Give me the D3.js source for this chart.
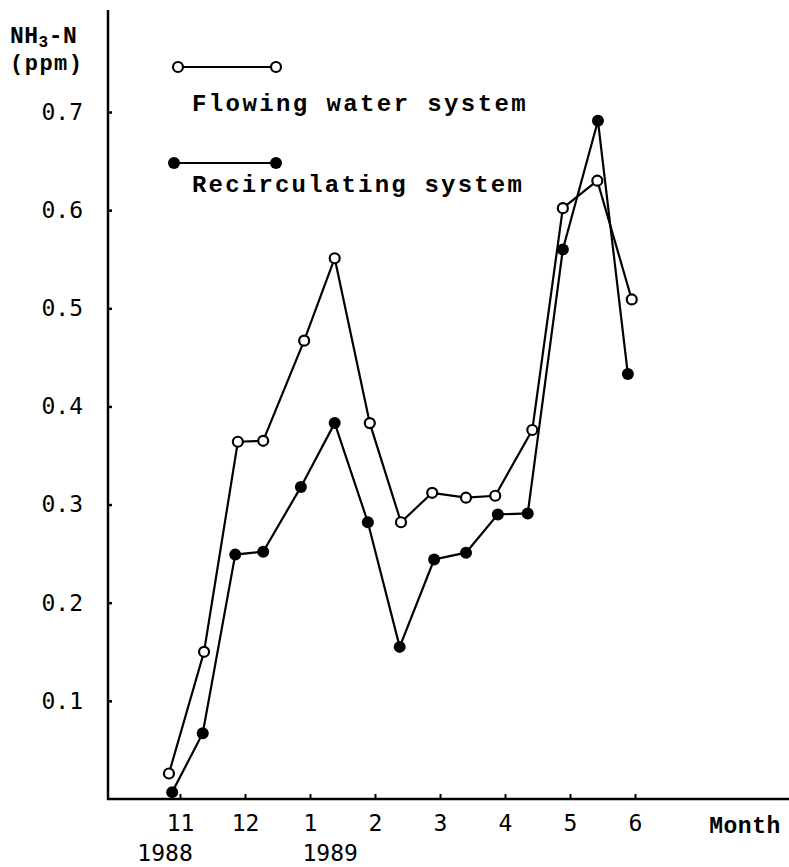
<!DOCTYPE html>
<html>
<head>
<meta charset="utf-8">
<script src="https://cdn.jsdelivr.net/npm/d3@7"></script>
<style>
  html, body { margin: 0; padding: 0; background: #fff; }
  svg { display: block; }
</style>
</head>
<body>
<svg id="chart" width="789" height="867"></svg>
<script>
// Month ticks (index 0 = Nov 1988)
const monthTicks = [0, 1, 2, 3, 4, 5, 6, 7];
const monthLabels = ["11", "12", "1", "2", "3", "4", "5", "6"];
const yearLabels = ["1988", "1989"];
const yearPos = [-0.23, 2.31];
const yTicks = [0.1, 0.2, 0.3, 0.4, 0.5, 0.6, 0.7];

// Flowing water system (open circles)
const flowT = [-0.17, 0.37, 0.89, 1.28, 1.91, 2.38, 2.92, 3.40, 3.88, 4.40, 4.85, 5.42, 5.89, 6.42, 6.95];
const flowV = [0.026, 0.150, 0.364, 0.365, 0.467, 0.551, 0.383, 0.282, 0.312, 0.307, 0.309, 0.376, 0.602, 0.630, 0.509];

// Recirculating system (filled circles)
const recT = [-0.12, 0.35, 0.85, 1.28, 1.86, 2.38, 2.89, 3.38, 3.91, 4.40, 4.89, 5.35, 5.89, 6.43, 6.89];
const recV = [0.007, 0.067, 0.249, 0.252, 0.318, 0.383, 0.282, 0.155, 0.244, 0.251, 0.290, 0.291, 0.560, 0.691, 0.433];

const svg = d3.select("#chart");
const x = d3.scaleLinear().domain([0, 7]).range([180, 635]);
const y = d3.scaleLinear().domain([0, 0.7]).range([799, 112]);

const axisX0 = 108, axisY0 = 799;
const tickFont = "'DejaVu Sans Mono', monospace";
const boldFont = "'Liberation Mono', 'Courier New', monospace";

// Axis lines
svg.append("line").attr("x1", axisX0).attr("x2", axisX0).attr("y1", 10).attr("y2", axisY0 + 1)
  .attr("stroke", "#000").attr("stroke-width", 2.5);
svg.append("line").attr("x1", axisX0 - 1).attr("x2", 789).attr("y1", axisY0).attr("y2", axisY0)
  .attr("stroke", "#000").attr("stroke-width", 2.5);

// Y axis
const yAxis = svg.append("g").attr("transform", `translate(${axisX0},0)`)
  .call(d3.axisLeft(y).tickValues(yTicks).tickSize(-4).tickPadding(25).tickFormat(d3.format(".1f")));
yAxis.select(".domain").remove();
yAxis.selectAll(".tick line").attr("stroke", "#000").attr("stroke-width", 2.5);
yAxis.selectAll(".tick text").attr("font-family", tickFont).attr("font-size", 23).attr("fill", "#000");

// X axis
const xAxis = svg.append("g").attr("transform", `translate(0,${axisY0})`)
  .call(d3.axisBottom(x).tickValues(monthTicks).tickSize(-5).tickPadding(16)
    .tickFormat((d, i) => monthLabels[i]));
xAxis.select(".domain").remove();
xAxis.selectAll(".tick line").attr("stroke", "#000").attr("stroke-width", 2);
xAxis.selectAll(".tick text").attr("font-family", tickFont).attr("font-size", 23).attr("fill", "#000");

// Year labels
svg.selectAll(".year").data(yearLabels).enter().append("text")
  .attr("x", (d, i) => x(yearPos[i])).attr("y", 861)
  .attr("text-anchor", "middle").attr("font-family", tickFont).attr("font-size", 23)
  .text(d => d);

// Month label
svg.append("text").attr("x", 745).attr("y", 833).attr("text-anchor", "middle")
  .attr("font-family", boldFont).attr("font-weight", "bold").attr("font-size", 23)
  .attr("letter-spacing", 0.5).text("Month");

// Y axis title
const t1 = svg.append("text").attr("x", 10).attr("y", 43)
  .attr("font-family", boldFont).attr("font-weight", "bold").attr("font-size", 23)
  .attr("letter-spacing", 0.5);
t1.append("tspan").text("NH");
t1.append("tspan").attr("font-size", 16).attr("dy", 4).text("3");
t1.append("tspan").attr("dy", -4).text("-N");
svg.append("text").attr("x", 10).attr("y", 70)
  .attr("font-family", boldFont).attr("font-weight", "bold").attr("font-size", 22)
  .attr("letter-spacing", 1.5).text("(ppm)");

// Series
const line = d3.line().x(d => x(d[0])).y(d => y(d[1]));
const flowData = flowT.map((t, i) => [t, flowV[i]]);
const recData = recT.map((t, i) => [t, recV[i]]);

svg.append("path").datum(flowData).attr("d", line)
  .attr("fill", "none").attr("stroke", "#000").attr("stroke-width", 2.2);
svg.append("path").datum(recData).attr("d", line)
  .attr("fill", "none").attr("stroke", "#000").attr("stroke-width", 2.2);

svg.selectAll(".rec").data(recData).enter().append("circle")
  .attr("cx", d => x(d[0])).attr("cy", d => y(d[1])).attr("r", 6).attr("fill", "#000");
svg.selectAll(".flow").data(flowData).enter().append("circle")
  .attr("cx", d => x(d[0])).attr("cy", d => y(d[1])).attr("r", 5)
  .attr("fill", "#fff").attr("stroke", "#000").attr("stroke-width", 2.2);

// Legend
const legX1 = 178, legX2 = 276;
svg.append("line").attr("x1", legX1).attr("x2", legX2).attr("y1", 67).attr("y2", 67)
  .attr("stroke", "#000").attr("stroke-width", 2);
[legX1, legX2].forEach(cx => svg.append("circle").attr("cx", cx).attr("cy", 67).attr("r", 5)
  .attr("fill", "#fff").attr("stroke", "#000").attr("stroke-width", 2.2));
svg.append("text").attr("x", 192).attr("y", 111)
  .attr("font-family", boldFont).attr("font-weight", "bold").attr("font-size", 24)
  .attr("letter-spacing", 2.4).text("Flowing water system");

svg.append("line").attr("x1", 174).attr("x2", legX2).attr("y1", 163).attr("y2", 163)
  .attr("stroke", "#000").attr("stroke-width", 2);
[174, legX2].forEach(cx => svg.append("circle").attr("cx", cx).attr("cy", 163).attr("r", 6).attr("fill", "#000"));
svg.append("text").attr("x", 192).attr("y", 192)
  .attr("font-family", boldFont).attr("font-weight", "bold").attr("font-size", 24)
  .attr("letter-spacing", 2.2).text("Recirculating system");
</script>
</body>
</html>
